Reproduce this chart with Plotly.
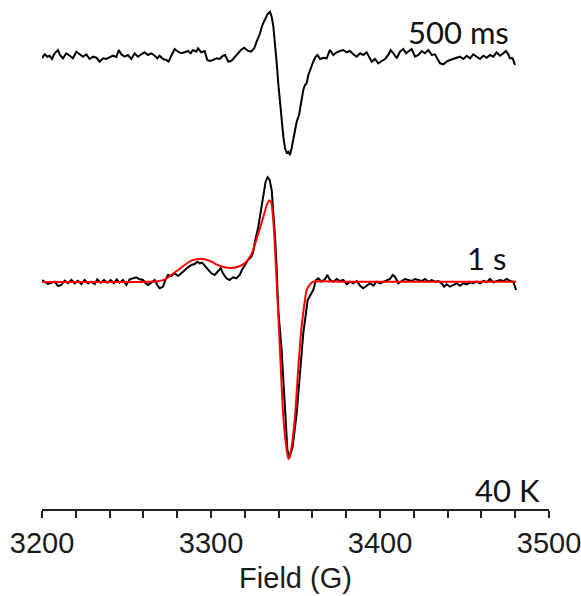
import plotly.graph_objects as go

# ---- 500 ms trace (field in G, intensity in arbitrary units) ----
field_500ms = [
    3200.0, 3201.6, 3203.2, 3204.5, 3205.9, 3207.5, 3209.5, 3210.6, 3212.4, 3214.4,
    3216.4, 3218.3, 3220.3, 3222.3, 3224.3, 3226.2, 3228.2, 3230.2, 3232.2, 3234.1,
    3236.1, 3238.1, 3240.0, 3242.0, 3244.0, 3245.4, 3246.9, 3248.9, 3250.9, 3252.9,
    3254.8, 3256.8, 3258.8, 3260.7, 3262.7, 3264.7, 3266.7, 3268.2, 3269.6, 3271.6,
    3273.6, 3274.9, 3276.5, 3278.5, 3280.5, 3282.4, 3284.4, 3286.4, 3288.0, 3289.3,
    3291.3, 3292.3, 3294.3, 3296.3, 3297.8, 3299.2, 3301.2, 3303.2, 3305.1, 3307.1,
    3308.3, 3310.3, 3312.2, 3314.2, 3315.8, 3317.7, 3319.7, 3321.7, 3323.7, 3325.6,
    3327.0, 3329.0, 3330.4, 3332.0, 3333.5, 3334.9, 3335.9, 3336.9, 3337.9, 3338.9,
    3339.8, 3340.8, 3341.8, 3342.8, 3343.8, 3344.8, 3345.8, 3346.7, 3347.7, 3348.7,
    3349.7, 3350.7, 3352.1, 3353.2, 3354.6, 3355.6, 3356.6, 3357.6, 3359.2, 3360.5,
    3361.9, 3363.1, 3364.5, 3366.5, 3368.4, 3370.4, 3372.4, 3374.4, 3376.3, 3378.3,
    3380.3, 3382.2, 3384.2, 3386.2, 3388.2, 3390.1, 3392.1, 3393.1, 3395.1, 3397.0,
    3399.0, 3401.0, 3403.0, 3404.9, 3406.3, 3407.9, 3409.9, 3411.8, 3413.8, 3415.4,
    3416.8, 3418.7, 3420.7, 3422.7, 3424.7, 3426.6, 3428.6, 3430.6, 3432.5, 3433.9,
    3435.5, 3437.5, 3439.4, 3441.4, 3443.4, 3445.4, 3447.3, 3449.3, 3451.3, 3453.3,
    3455.2, 3457.2, 3459.2, 3461.1, 3463.1, 3465.1, 3467.1, 3469.0, 3471.0, 3473.0,
    3474.5, 3475.9, 3476.9, 3478.5, 3479.9,
]
signal_500ms = [
    -1.3, 2.7, 0.3, 1.3, -2.0, 3.7, 7.0, 2.0, -1.3, 3.7,
    1.3, -1.3, 5.3, 2.7, 0.3, 2.7, -2.0, 0.3, -0.7, -4.7,
    -1.3, -2.0, -0.7, 1.3, 0.0, 7.0, 2.7, 0.3, 2.0, -2.0,
    3.7, 0.3, 2.7, 4.7, 2.0, 3.7, 1.3, -1.3, 1.3, -2.0,
    -3.0, -4.7, 1.3, 8.0, 5.3, 3.7, 4.7, 6.0, 3.7, 7.0,
    5.3, 8.7, 4.7, 6.0, -3.0, -4.0, -3.0, -1.3, -2.0, 1.3,
    2.0, -4.7, -3.7, 0.3, 3.7, 7.0, 9.3, 6.3, 5.3, 8.7,
    15.3, 23.7, 32.0, 38.7, 43.0, 45.3, 40.3, 30.3, 13.7, -6.3,
    -26.3, -46.3, -63.0, -79.7, -91.3, -95.7, -94.7, -98.0, -91.3, -83.0,
    -73.0, -64.7, -58.0, -46.3, -33.0, -28.0, -26.3, -18.0, -9.7, -4.7,
    0.3, 2.0, -2.0, -0.7, -1.3, 7.0, 2.0, 4.7, 6.0, 7.0,
    4.7, 6.0, 2.7, 0.3, 3.7, 2.0, 4.7, 1.3, -4.7, -2.0,
    -6.3, -4.0, -2.0, 2.0, 7.0, 3.7, -1.3, 5.3, 8.0, 3.7,
    5.3, 8.0, 0.3, 2.0, 6.0, 3.7, 7.0, 2.0, 2.7, -1.3,
    -6.3, -7.3, -4.7, -3.0, -2.0, -1.3, 0.3, -2.0, 1.3, -1.3,
    2.7, 0.3, -2.0, 1.3, -0.7, 2.0, 0.3, 4.7, 1.3, 3.7,
    6.0, 2.7, -1.3, -1.3, -8.0,
]

# ---- 1 s trace (experimental) ----
field_1s = [
    3200.0, 3201.6, 3203.5, 3205.5, 3207.5, 3209.5, 3211.4, 3213.4, 3215.4, 3217.4,
    3219.3, 3221.3, 3223.3, 3225.2, 3227.2, 3229.2, 3231.2, 3232.7, 3234.7, 3236.7,
    3238.7, 3240.6, 3242.6, 3244.2, 3246.0, 3247.9, 3249.9, 3251.9, 3253.8, 3255.8,
    3257.8, 3259.8, 3261.1, 3262.7, 3264.7, 3266.7, 3268.2, 3269.6, 3271.6, 3273.0,
    3274.6, 3276.5, 3278.5, 3280.5, 3282.4, 3284.4, 3286.4, 3288.4, 3290.3, 3291.9,
    3293.3, 3294.7, 3296.3, 3298.2, 3300.2, 3302.2, 3304.1, 3305.7, 3307.1, 3309.1,
    3311.0, 3313.0, 3315.0, 3317.0, 3318.3, 3319.9, 3321.9, 3323.9, 3325.0, 3326.0,
    3328.0, 3329.6, 3331.0, 3332.3, 3333.5, 3334.7, 3335.9, 3336.9, 3337.9, 3338.9,
    3339.8, 3341.8, 3343.8, 3345.2, 3346.3, 3348.3, 3350.7, 3352.7, 3354.6, 3357.2,
    3360.5, 3362.1, 3363.5, 3365.5, 3367.5, 3368.8, 3370.4, 3372.4, 3374.4, 3376.3,
    3378.3, 3380.3, 3382.2, 3384.2, 3386.2, 3388.2, 3390.1, 3392.1, 3394.1, 3396.1,
    3398.0, 3400.0, 3402.0, 3403.9, 3405.9, 3407.5, 3408.9, 3410.8, 3412.8, 3414.8,
    3416.8, 3418.7, 3420.7, 3422.7, 3424.7, 3426.6, 3428.6, 3430.6, 3432.5, 3434.5,
    3436.5, 3437.9, 3439.4, 3441.4, 3443.4, 3445.4, 3447.3, 3449.3, 3451.3, 3453.3,
    3455.2, 3457.2, 3459.2, 3461.1, 3463.1, 3465.1, 3467.1, 3469.0, 3471.0, 3473.0,
    3475.0, 3476.9, 3478.9, 3480.5,
]
signal_1s = [
    2.0, 0.3, -2.0, -0.7, 0.3, -4.0, -3.0, 1.3, -1.3, 2.0,
    -1.3, 1.3, -2.0, 2.0, -1.3, 0.3, -2.0, 2.7, -0.7, 2.0,
    -0.7, 2.0, -1.3, 2.7, -0.7, 2.0, -3.0, 2.7, 3.7, 4.7,
    2.7, 2.0, -0.7, -3.0, -0.7, 2.0, -3.0, -6.3, -4.7, 2.0,
    7.0, 6.0, 8.7, 6.0, 8.7, 12.0, 14.7, 17.0, 18.0, 20.3,
    18.7, 19.3, 16.0, 12.0, 8.7, 7.0, 11.3, 13.7, 8.7, 3.7,
    2.0, 4.7, 3.7, 7.0, 12.0, 17.0, 22.0, 25.3, 30.0, 40.3,
    55.3, 72.0, 88.7, 100.3, 104.7, 102.0, 92.0, 72.0, 45.3, 12.0,
    -28.0, -68.0, -134.7, -168.0, -176.3, -164.7, -131.3, -91.3, -51.3, -18.0,
    -8.0, 2.0, 3.7, 0.3, 3.0, 7.0, 2.0, 0.3, 3.0, 1.0,
    2.0, -2.3, 0.3, -1.3, 1.0, -3.7, -6.3, -3.7, -1.3, -3.7,
    0.3, -1.3, 0.3, 2.0, 3.0, 7.0, 5.3, -1.3, 1.0, 3.0,
    2.0, 1.0, 3.0, 2.0, 1.0, 3.0, 0.3, 2.0, 0.3, 1.0,
    -1.3, -4.7, -2.3, -4.7, -3.0, -1.3, -3.7, -1.3, -2.3, -0.3,
    -1.3, 0.3, -1.3, 1.0, -0.3, 3.0, -0.3, 1.0, 2.0, 1.0,
    3.0, 1.0, 0.3, -8.0,
]

# ---- 1 s simulation (red fit) ----
field_fit = [
    3200.0, 3256.8, 3262.7, 3266.7, 3268.6, 3272.6, 3276.5, 3280.5, 3284.4, 3288.4,
    3292.3, 3296.3, 3300.2, 3304.1, 3308.1, 3312.0, 3316.0, 3319.9, 3324.0, 3328.0,
    3331.0, 3333.0, 3334.3, 3335.5, 3336.5, 3337.5, 3338.3, 3339.3, 3340.8, 3342.8,
    3344.8, 3345.9, 3347.7, 3349.7, 3351.7, 3353.6, 3355.6, 3356.6, 3358.6, 3360.5,
    3380.0, 3420.0, 3460.0, 3480.5,
]
signal_fit = [
    0.0, 0.0, 0.3, 0.5, 0.8, 2.3, 7.0, 12.0, 17.0, 21.3,
    23.0, 22.7, 20.3, 17.0, 14.7, 14.0, 15.3, 18.7, 28.0, 48.7,
    65.3, 77.0, 81.3, 80.3, 68.7, 45.3, 18.7, -14.7, -68.0, -134.7,
    -168.0, -177.3, -164.7, -134.7, -84.7, -44.7, -18.0, -8.0, -2.3, 0.3,
    0.3, 0.3, 0.3, 0.3,
]

trace_labels = ["500 ms", "1 s", "40 K"]
x_ticks = [3200, 3300, 3400, 3500]
x_title = "Field (G)"

STACK_OFFSET = 225  # vertical offset of the 500 ms trace above the 1 s trace

fig = go.Figure()
fig.add_trace(go.Scatter(x=field_500ms, y=[v + STACK_OFFSET for v in signal_500ms],
                         mode="lines", line=dict(color="#000000", width=2),
                         showlegend=False))
fig.add_trace(go.Scatter(x=field_1s, y=signal_1s, mode="lines",
                         line=dict(color="#000000", width=2), showlegend=False))
fig.add_trace(go.Scatter(x=field_fit, y=signal_fit, mode="lines",
                         line=dict(color="#ff0000", width=2, shape="spline", smoothing=0.6),
                         showlegend=False))

W, H = 581, 596
axis_font = dict(family="Liberation Sans, Arial, sans-serif", size=29, color="#1a1a1a")
label_font = dict(family="Lato, Open Sans, sans-serif", size=31, color="#111111")

fig.update_layout(
    template="none",
    width=W, height=H, autosize=False,
    margin=dict(l=0, r=0, t=0, b=0, pad=0),
    paper_bgcolor="white", plot_bgcolor="white",
    xaxis=dict(
        range=[3200, 3500], domain=[42 / W, 549 / W],
        anchor="free", position=(H - 510) / H, automargin=False,
        showgrid=False, zeroline=False,
        showline=True, linecolor="#222222", linewidth=1.5,
        tickmode="array", tickvals=x_ticks, ticktext=[str(t) for t in x_ticks],
        ticks="outside", ticklen=7, tickwidth=1.5, tickcolor="#222222",
        ticklabeloverflow="allow",
        minor=dict(dtick=20, tick0=3200, ticks="outside", ticklen=7,
                   tickwidth=1.5, tickcolor="#222222", showgrid=False),
        tickfont=axis_font,
        title=dict(text=x_title, font=axis_font, standoff=9),
    ),
    yaxis=dict(range=[-314, 282], domain=[0, 1], visible=False, automargin=False),
    annotations=[
        dict(text=trace_labels[0], xref="paper", yref="paper", x=511 / W, y=1 - 32 / H,
             xanchor="right", yanchor="middle", showarrow=False, font=label_font),
        dict(text=trace_labels[1], xref="paper", yref="paper", x=508 / W, y=1 - 258 / H,
             xanchor="right", yanchor="middle", showarrow=False, font=label_font),
        dict(text=trace_labels[2], xref="paper", yref="paper", x=542 / W, y=1 - 490 / H,
             xanchor="right", yanchor="middle", showarrow=False, font=label_font),
    ],
)

fig.write_html("out.html")
